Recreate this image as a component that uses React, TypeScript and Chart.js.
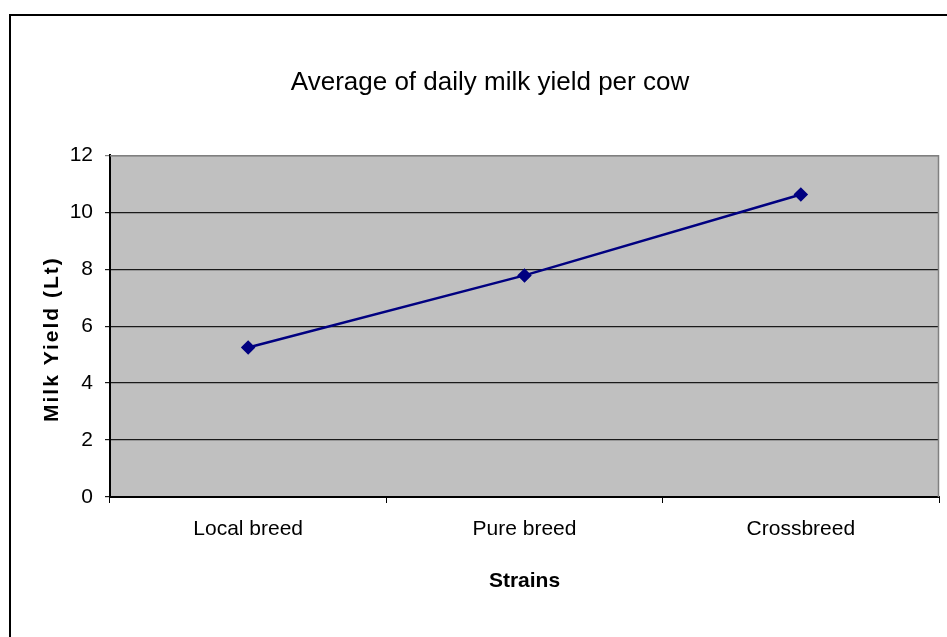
import React, { useEffect, useRef } from "react";
import { Chart, registerables } from "chart.js";

Chart.register(...registerables);

const categories = ["Local breed", "Pure breed", "Crossbreed"];
const milkYield = [5.25, 7.78, 10.62];
const yTicks = [0, 2, 4, 6, 8, 10, 12];
const chartTitle = "Average of daily milk yield per cow";
const yTitle = "Milk Yield (Lt)";
const xTitle = "Strains";

const FONT = "'Liberation Sans', Arial, sans-serif";

const framePlugin = {
  id: "frame",
  beforeDraw(chart: any) {
    const { ctx, chartArea } = chart;
    ctx.save();
    ctx.fillStyle = "#ffffff";
    ctx.fillRect(0, 0, chart.width, chart.height);
    ctx.fillStyle = "#c0c0c0";
    ctx.fillRect(chartArea.left, chartArea.top, chartArea.right - chartArea.left, chartArea.bottom - chartArea.top);
    ctx.strokeStyle = "#000000";
    ctx.lineWidth = 2;
    ctx.beginPath();
    ctx.moveTo(10, chart.height + 5);
    ctx.lineTo(10, 15);
    ctx.lineTo(chart.width + 5, 15);
    ctx.stroke();
    ctx.restore();
  },
  beforeDatasetsDraw(chart: any) {
    const { ctx, chartArea } = chart;
    ctx.save();
    ctx.strokeStyle = "#808080";
    ctx.lineWidth = 1.5;
    ctx.beginPath();
    ctx.moveTo(chartArea.left, chartArea.top + 0.5);
    ctx.lineTo(chartArea.right - 0.5, chartArea.top + 0.5);
    ctx.lineTo(chartArea.right - 0.5, chartArea.bottom);
    ctx.stroke();
    ctx.restore();
  },
  afterDraw(chart: any) {
    const { ctx, chartArea } = chart;
    ctx.save();
    ctx.translate(52, (chartArea.top + chartArea.bottom) / 2 + 14);
    ctx.rotate(-Math.PI / 2);
    ctx.font = `bold 21px ${FONT}`;
    (ctx as any).letterSpacing = "2px";
    ctx.fillStyle = "#000000";
    ctx.textAlign = "center";
    ctx.textBaseline = "middle";
    ctx.fillText(yTitle, 1, 0);
    ctx.restore();
  },
};

export default function App() {
  const ref = useRef<HTMLCanvasElement>(null);
  useEffect(() => {
    if (!ref.current) return;
    const chart = new Chart(ref.current, {
      type: "line",
      data: {
        labels: categories,
        datasets: [
          {
            data: milkYield,
            borderColor: "#000080",
            backgroundColor: "#000080",
            borderWidth: 2.5,
            pointStyle: "rectRot",
            pointRadius: 5.5,
            pointHoverRadius: 5.5,
            fill: false,
            tension: 0,
          },
        ],
      },
      options: {
        animation: false,
        responsive: false,
        maintainAspectRatio: false,
        layout: { padding: { left: 40, right: 7, top: 0, bottom: 0 } },
        plugins: {
          legend: { display: false },
          tooltip: { enabled: false },
          title: {
            display: true,
            text: chartTitle,
            color: "#000000",
            font: { family: FONT, size: 26, weight: "normal" },
            padding: { top: 67, bottom: 57 },
          },
        },
        scales: {
          x: {
            offset: true,
            grid: {
              offset: true,
              drawOnChartArea: false,
              drawTicks: true,
              tickLength: 6,
              color: "#000000",
            },
            border: { color: "#000000", width: 2 },
            ticks: {
              color: "#000000",
              font: { family: FONT, size: 21 },
              padding: 14,
              maxRotation: 0,
            },
            title: {
              display: true,
              text: xTitle,
              color: "#000000",
              font: { family: FONT, size: 21, weight: "bold" },
              padding: { top: 0, bottom: 43 },
            },
            afterFit(scale: any) {
              scale.height = 140;
            },
          },
          y: {
            min: 0,
            max: 12,
            afterBuildTicks(scale: any) {
              scale.ticks = yTicks.map((v) => ({ value: v }));
            },
            grid: {
              color: (c: any) => (c.tick && c.tick.value === 12 ? "#808080" : "#1a1a1a"),
              lineWidth: 1.2,
              tickLength: 5,
              drawTicks: true,
            },
            border: { color: "#000000", width: 2 },
            ticks: {
              color: "#000000",
              font: { family: FONT, size: 21 },
              padding: 12,
            },
            title: { display: false },
            afterFit(scale: any) {
              scale.width = 70;
            },
          },
        },
      },
      plugins: [framePlugin],
    });
    return () => chart.destroy();
  }, []);
  return (
    <div style={{ position: "fixed", left: 0, top: 0, width: 947, height: 637, background: "#fff" }}>
      <canvas ref={ref} width={947} height={637} style={{ width: 947, height: 637 }} />
    </div>
  );
}
